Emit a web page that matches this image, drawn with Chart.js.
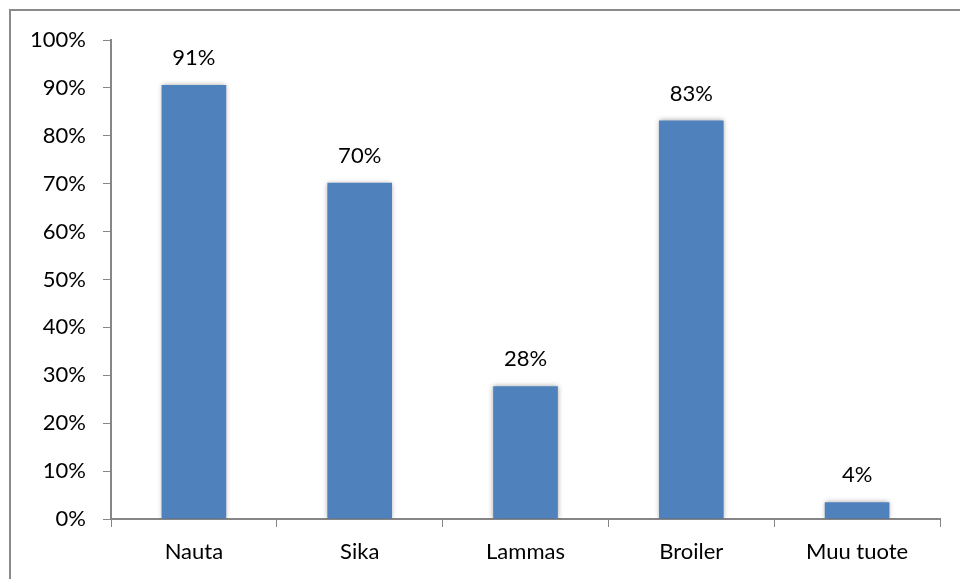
<!DOCTYPE html>
<html>
<head>
<meta charset="utf-8">
<script src="https://cdn.jsdelivr.net/npm/chart.js@4/dist/chart.umd.min.js"></script>
<style>
    html, body { margin: 0; padding: 0; background: #fff; overflow: hidden; }
    #wrap { position: relative; width: 960px; height: 579px; }
    #frame { position: absolute; left: 9px; top: 9px; width: 1000px; height: 700px;
             border-top: 2px solid #8a8a8a; border-left: 2px solid #8a8a8a; box-sizing: border-box; pointer-events: none; }
</style>
</head>
<body>
<div id="wrap">
    <canvas id="chart" width="960" height="579"></canvas>
    <div id="frame"></div>
</div>
<script>
// Tuotteet ja osuudet (%)
const categories = ['Nauta', 'Sika', 'Lammas', 'Broiler', 'Muu tuote'];
const shares = [90.6, 70.2, 27.7, 83.2, 3.5];
const yTicks = [0, 10, 20, 30, 40, 50, 60, 70, 80, 90, 100];

const FONT = 'Lato, "Open Sans", sans-serif';

// Palkkien varjo
const barShadow = {
    id: 'barShadow',
    beforeDatasetsDraw(chart) {
        const ctx = chart.ctx;
        ctx.save();
        ctx.shadowColor = 'rgba(0,0,0,0.35)';
        ctx.shadowBlur = 5;
        ctx.shadowOffsetX = 0;
        ctx.shadowOffsetY = 0;
    },
    afterDatasetsDraw(chart) {
        chart.ctx.restore();
    }
};

// Arvot palkkien päälle
const valueLabels = {
    id: 'valueLabels',
    afterDatasetsDraw(chart) {
        const ctx = chart.ctx;
        const meta = chart.getDatasetMeta(0);
        ctx.save();
        ctx.font = '22px ' + FONT;
        ctx.fillStyle = '#000';
        ctx.textAlign = 'center';
        ctx.textBaseline = 'middle';
        meta.data.forEach((bar, i) => {
            ctx.fillText(Math.round(shares[i]) + '%', bar.x, bar.y - 27);
        });
        ctx.restore();
    }
};

const ctx = document.getElementById('chart').getContext('2d');
new Chart(ctx, {
    type: 'bar',
    data: {
        labels: categories,
        datasets: [{
            data: shares,
            backgroundColor: '#4F81BD',
            borderWidth: 0,
            categoryPercentage: 1,
            barPercentage: 0.39
        }]
    },
    options: {
        responsive: false,
        animation: false,
        layout: { padding: { top: 40, right: 20, left: 0, bottom: 0 } },
        plugins: {
            legend: { display: false },
            tooltip: { enabled: false }
        },
        scales: {
            x: {
                offset: true,
                grid: {
                    offset: true,
                    drawOnChartArea: false,
                    drawTicks: true,
                    tickLength: 8,
                    color: '#868686'
                },
                border: { color: '#868686', width: 2 },
                ticks: {
                    color: '#000',
                    font: { family: FONT, size: 22 },
                    padding: 12,
                    maxRotation: 0
                },
                afterFit(scale) { scale.height = 60; }
            },
            y: {
                min: 0,
                max: 100,
                afterBuildTicks(scale) {
                    scale.ticks = yTicks.map(v => ({ value: v }));
                },
                grid: {
                    drawOnChartArea: false,
                    drawTicks: true,
                    tickLength: 8,
                    color: '#868686'
                },
                border: { color: '#868686', width: 2 },
                ticks: {
                    color: '#000',
                    font: { family: FONT, size: 22 },
                    padding: 17,
                    callback: v => v + '%'
                },
                afterFit(scale) { scale.width = 111; }
            }
        }
    },
    plugins: [barShadow, valueLabels]
});
</script>
</body>
</html>
